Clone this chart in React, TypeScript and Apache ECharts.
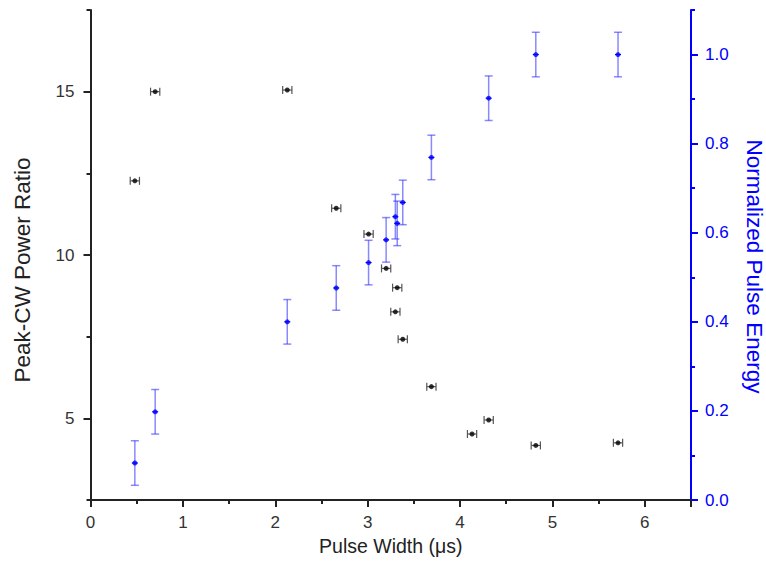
import React, { useEffect, useRef } from "react";
import * as echarts from "echarts";

// Peak-CW power ratio (left axis, black) with horizontal error bars
const widthBlack = [0.48, 0.70, 2.13, 2.66, 3.01, 3.20, 3.30, 3.32, 3.38, 3.69, 4.13, 4.31, 4.82, 5.71];
const powerRatio = [12.27, 15.0, 15.05, 11.43, 10.64, 9.59, 8.26, 9.0, 7.42, 5.97, 4.52, 4.95, 4.17, 4.25];
const widthErr = [0.05, 0.05, 0.05, 0.05, 0.05, 0.05, 0.05, 0.05, 0.05, 0.05, 0.05, 0.05, 0.05, 0.05];

// Normalized pulse energy (right axis, blue) with vertical error bars
const widthBlue = [0.48, 0.70, 2.13, 2.66, 3.01, 3.20, 3.30, 3.32, 3.38, 3.69, 4.31, 4.82, 5.71];
const pulseEnergy = [0.083, 0.198, 0.40, 0.476, 0.533, 0.584, 0.636, 0.621, 0.668, 0.769, 0.902, 1.0, 1.0];
const energyErr = [0.05, 0.05, 0.05, 0.05, 0.05, 0.05, 0.05, 0.05, 0.05, 0.05, 0.05, 0.05, 0.05];

const xLabels = [0, 1, 2, 3, 4, 5, 6];
const leftMajor = [5, 10, 15];
const leftMinor = [2.5, 7.5, 12.5, 17.5];
const rightMajor = [0, 0.2, 0.4, 0.6, 0.8, 1.0];
const rightMinor = [0.1, 0.3, 0.5, 0.7, 0.9, 1.1];

const xTitle = "Pulse Width (\u03bcs)";
const leftTitle = "Peak-CW Power Ratio";
const rightTitle = "Normalized Pulse Energy";

const FONT = "'Liberation Sans', Arial, sans-serif";
const BLUE = "#0000ff";
const BLUE_BAR = "rgba(40,40,255,0.55)";
const DARK = "#222";

export default function App() {
  const ref = useRef<HTMLDivElement>(null);
  useEffect(() => {
    if (!ref.current) return;
    const chart = echarts.init(ref.current, undefined, { renderer: "svg" });

    const blackData = widthBlack.map((x, i) => [x, powerRatio[i], widthErr[i]]);
    const blueData = widthBlue.map((x, i) => [x, pulseEnergy[i], energyErr[i]]);

    const hBar = (params: any, api: any) => {
      const x = api.value(0), y = api.value(1), e = api.value(2);
      const a = api.coord([x - e, y]);
      const b = api.coord([x + e, y]);
      const c = 4;
      const style = { stroke: "#555", lineWidth: 1.2 };
      return {
        type: "group",
        children: [
          { type: "line", shape: { x1: a[0], y1: a[1], x2: b[0], y2: b[1] }, style },
          { type: "line", shape: { x1: a[0], y1: a[1] - c, x2: a[0], y2: a[1] + c }, style },
          { type: "line", shape: { x1: b[0], y1: b[1] - c, x2: b[0], y2: b[1] + c }, style },
        ],
      };
    };
    const vBar = (params: any, api: any) => {
      const x = api.value(0), y = api.value(1), e = api.value(2);
      const a = api.coord([x, y - e]);
      const b = api.coord([x, y + e]);
      const c = 4;
      const style = { stroke: BLUE_BAR, lineWidth: 1.5 };
      return {
        type: "group",
        children: [
          { type: "line", shape: { x1: a[0], y1: a[1], x2: b[0], y2: b[1] }, style },
          { type: "line", shape: { x1: a[0] - c, y1: a[1], x2: a[0] + c, y2: a[1] }, style },
          { type: "line", shape: { x1: b[0] - c, y1: b[1], x2: b[0] + c, y2: b[1] }, style },
          { type: "line", shape: { x1: a[0] - 3, y1: (a[1] + b[1]) / 2, x2: a[0] + 3, y2: (a[1] + b[1]) / 2 }, style: { stroke: BLUE, lineWidth: 1.2 } },
        ],
      };
    };

    chart.setOption({
      animation: false,
      backgroundColor: "#fff",
      textStyle: { fontFamily: FONT },
      grid: { left: 90.5, right: 75, top: 10, bottom: 79, containLabel: false },
      graphic: [
        {
          type: "text",
          x: 22,
          y: 270,
          rotation: Math.PI / 2,
          style: { text: leftTitle, font: `22.5px ${FONT}`, fill: DARK, textAlign: "center", textVerticalAlign: "middle" },
        },
        {
          type: "text",
          x: 754,
          y: 266.5,
          rotation: -Math.PI / 2,
          style: { text: rightTitle, font: `22.5px ${FONT}`, fill: BLUE, textAlign: "center", textVerticalAlign: "middle" },
        },
      ],
      xAxis: {
        type: "value",
        min: 0,
        max: 6.5,
        interval: 1,
        name: xTitle,
        nameLocation: "middle",
        nameGap: 36,
        nameTextStyle: { fontSize: 19.5, color: DARK, fontFamily: FONT },
        axisLine: { lineStyle: { color: DARK, width: 2 } },
        axisTick: { show: true, inside: false, length: 7, lineStyle: { color: DARK, width: 2 } },
        minorTick: { show: true, splitNumber: 2, length: 4, lineStyle: { color: DARK, width: 2 } },
        axisLabel: {
          fontSize: 17,
          color: "#333",
          margin: 14,
          fontFamily: FONT,
          customValues: xLabels,
          formatter: (v: number) => (Number.isInteger(v) ? String(v) : ""),
        },
        splitLine: { show: false },
      },
      yAxis: [
        {
          type: "value",
          position: "left",
          min: 2.5,
          max: 17.5,
          interval: 2.5,
          axisLine: { show: true, lineStyle: { color: DARK, width: 2 } },
          axisTick: { show: true, length: 7, customValues: leftMajor, lineStyle: { color: DARK, width: 2 } },
          axisLabel: {
            fontSize: 17,
            color: "#333",
            margin: 16,
            fontFamily: FONT,
            customValues: leftMajor,
            formatter: (v: number) => (v % 5 === 0 ? String(v) : ""),
          },
          splitLine: { show: false },
        },
        {
          type: "value",
          position: "right",
          min: 0,
          max: 1.1,
          interval: 0.1,
          axisLine: { show: true, lineStyle: { color: BLUE, width: 2 } },
          axisTick: { show: true, length: 7, customValues: rightMajor, lineStyle: { color: BLUE, width: 2 } },
          axisLabel: {
            fontSize: 17,
            color: BLUE,
            margin: 14,
            fontFamily: FONT,
            customValues: rightMajor,
            formatter: (v: number) => v.toFixed(1),
          },
          splitLine: { show: false },
        },
        {
          type: "value",
          position: "left",
          min: 2.5,
          max: 17.5,
          interval: 2.5,
          axisLine: { show: false },
          axisTick: { show: true, length: 4, customValues: leftMinor, lineStyle: { color: DARK, width: 2 } },
          axisLabel: { show: false },
          splitLine: { show: false },
        },
        {
          type: "value",
          position: "right",
          min: 0,
          max: 1.1,
          interval: 0.1,
          axisLine: { show: false },
          axisTick: { show: true, length: 4, customValues: rightMinor, lineStyle: { color: BLUE, width: 2 } },
          axisLabel: { show: false },
          splitLine: { show: false },
        },
      ],
      series: [
        {
          type: "custom",
          name: "Ratio error",
          xAxisIndex: 0,
          yAxisIndex: 0,
          renderItem: hBar,
          encode: { x: 0, y: 1 },
          data: blackData,
          z: 2,
        },
        {
          type: "scatter",
          name: leftTitle,
          xAxisIndex: 0,
          yAxisIndex: 0,
          symbol: "circle",
          symbolSize: 5,
          itemStyle: { color: "#000" },
          data: blackData.map((d) => [d[0], d[1]]),
          z: 3,
        },
        {
          type: "custom",
          name: "Energy error",
          xAxisIndex: 0,
          yAxisIndex: 1,
          renderItem: vBar,
          encode: { x: 0, y: 1 },
          data: blueData,
          z: 2,
        },
        {
          type: "scatter",
          name: rightTitle,
          xAxisIndex: 0,
          yAxisIndex: 1,
          symbol: "circle",
          symbolSize: 5,
          itemStyle: { color: BLUE },
          data: blueData.map((d) => [d[0], d[1]]),
          z: 3,
        },
      ],
    });
    return () => chart.dispose();
  }, []);
  return (
    <div
      ref={ref}
      style={{ position: "fixed", left: 0, top: 0, width: 766, height: 579 }}
    />
  );
}
